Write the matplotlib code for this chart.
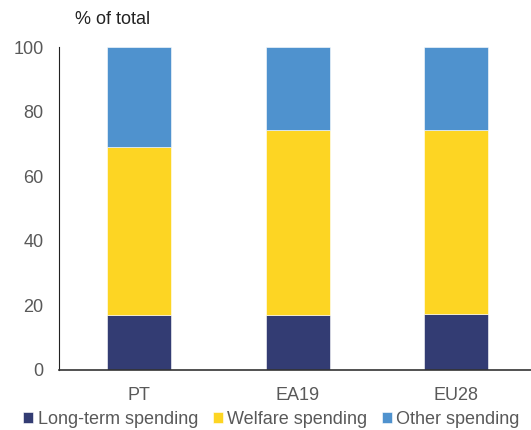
import matplotlib.pyplot as plt
import numpy as np

plt.rcParams["font.family"] = ["Liberation Sans", "DejaVu Sans"]

categories = ["PT", "EA19", "EU28"]
long_term = [16.9, 16.9, 17.4]
welfare = [52.1, 57.4, 56.9]
other = [31.0, 25.7, 25.7]

series = [
    ("Long-term spending", long_term, "#333c73"),
    ("Welfare spending", welfare, "#fdd523"),
    ("Other spending", other, "#4f92ce"),
]

fig = plt.figure(figsize=(5.31, 4.30), dpi=100)
ax = fig.add_axes([59 / 531, 60 / 430, 472 / 531, 323 / 430])

x = np.arange(len(categories))
bottom = np.zeros(len(categories))
for name, vals, color in series:
    ax.bar(x, vals, 0.404, bottom=bottom, color=color, label=name,
           edgecolor="white", linewidth=0.4)
    bottom += np.array(vals)

ax.set_xlim(-0.505, 2.473)
ax.set_ylim(0, 100)
ax.set_yticks(range(0, 101, 20))
ax.set_xticks(x)
ax.set_xticklabels(categories)
ax.tick_params(axis="both", length=0, labelsize=13, colors="#595959")
ax.tick_params(axis="x", pad=12)
ax.tick_params(axis="y", pad=11)

for s in ["top", "right"]:
    ax.spines[s].set_visible(False)
ax.spines["left"].set_color("#222222")
ax.spines["bottom"].set_color("#333333")
ax.spines["bottom"].set_linewidth(1.2)

fig.text(75 / 531, 1 - 20 / 430, "% of total", fontsize=13, color="#222222",
         va="center", ha="left")

fig.legend(loc="center", bbox_to_anchor=(0.5 + 6 / 531, 1 - 419 / 430), ncol=3,
           frameon=False, fontsize=13, handlelength=0.55, handleheight=0.55,
           handletextpad=0.25, columnspacing=0.8, labelcolor="#595959")

fig.savefig("out.png", dpi=100)
